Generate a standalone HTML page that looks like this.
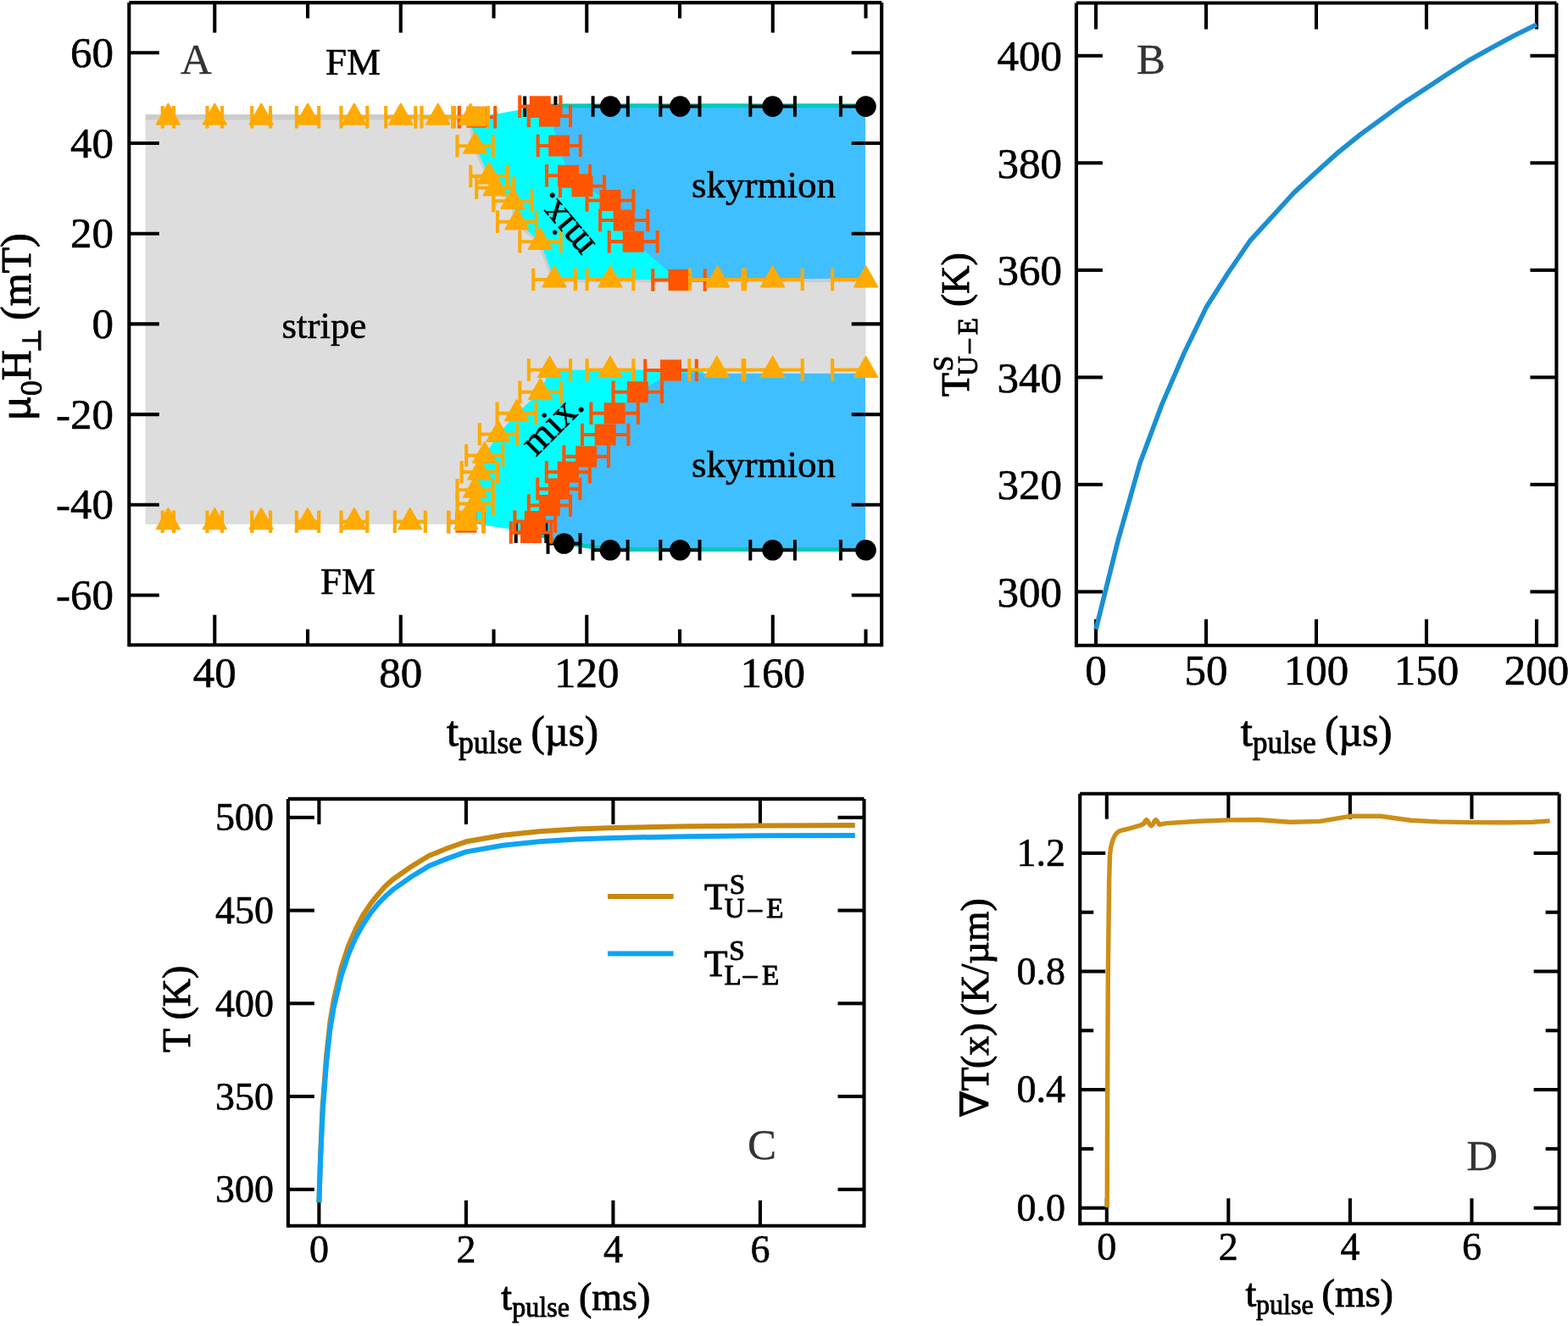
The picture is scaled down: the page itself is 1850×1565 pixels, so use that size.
<!DOCTYPE html>
<html lang="en">
<head>
<meta charset="utf-8">
<title>Figure: phase diagram and temperature curves</title>
<style>
html,body{margin:0;padding:0;background:#fff;}
body{width:1850px;height:1565px;overflow:hidden;}
svg{display:block;font-family:'Liberation Serif', 'DejaVu Serif', serif;}
text{stroke:#000;stroke-width:0.6px;stroke-linejoin:round;}
text.m,tspan.m{stroke-width:1.0px;}
text.ax{stroke-width:0.95px;}
text.g{stroke:#333;stroke-width:0.3px;}
</style>
</head>
<body>
<svg width="1850" height="1565" viewBox="0 0 1850 1565">
<clipPath id="clipA"><rect x="171.4" y="20" width="850.4" height="720"/></clipPath>
<rect width="1850" height="1565" fill="#fff"/>
<g clip-path="url(#clipA)">
<polygon points="171.4,138.2 555.1,138.2 560.6,172.2 577.0,207.9 584.2,221.8 605.0,237.3 610.0,261.8 637.4,285.3 654.0,330.0 720.0,330.0 846.6,330.0 911.6,330.0 1021.6,330.0 1021.6,436.5 911.6,436.5 845.8,436.5 720.0,436.5 648.5,436.5 637.6,462.7 609.6,487.8 588.0,512.5 571.7,537.5 565.9,557.1 560.6,578.2 560.6,594.5 549.6,615.6 171.4,615.6" fill="#DDDDDD"/>
<polyline points="171.4,138.2 555.1,138.2 560.6,172.2 577.0,207.9 584.2,221.8 605.0,237.3 610.0,261.8 637.4,285.3 654.0,330.0 720.0,330.0 846.6,330.0 911.6,330.0 1021.6,330.0" fill="none" stroke="#CCCCCC" stroke-width="6.5" stroke-linejoin="round"/>
<polyline points="171.4,615.6 549.6,615.6 560.6,594.5 560.6,578.2 565.9,557.1 571.7,537.5 588.0,512.5 609.6,487.8 637.6,462.7 648.5,436.5 720.0,436.5 845.8,436.5 911.6,436.5 1021.6,436.5" fill="none" stroke="#DDDDDD" stroke-width="6.5" stroke-linejoin="round"/>
<polygon points="555.1,138.2 560.6,172.2 577.0,207.9 584.2,221.8 605.0,237.3 610.0,261.8 637.4,285.3 654.0,330.0 830.0,330.0 830.0,125.6 637.3,125.6 563.0,138.2" fill="#00FFFF"/>
<polygon points="549.6,615.6 560.6,594.5 560.6,578.2 565.9,557.1 571.7,537.5 588.0,512.5 609.6,487.8 637.6,462.7 648.5,436.5 830.0,436.5 830.0,649.2 719.7,649.2 665.4,641.9 626.5,628.5 549.9,616.2" fill="#00FFFF"/>
<polygon points="637.3,125.8 648.4,137.0 659.7,172.0 670.5,207.3 687.0,219.8 720.0,236.5 736.2,260.0 747.2,285.1 801.0,330.5 1021.0,328.5 1021.0,125.6 637.3,125.6" fill="#40BFFF"/>
<polygon points="626.5,628.5 665.5,641.5 720.0,649.2 802.4,649.2 911.6,649.2 1021.0,647.2 1021.0,440.5 791.5,440.5 752.3,462.7 725.1,487.8 714.2,513.0 691.7,538.9 670.3,557.1 659.3,577.0 648.4,596.5 631.3,615.5 626.5,628.5" fill="#40BFFF"/>
<polyline points="637.3,125.0 720.2,124.8 802.4,124.8 911.6,124.8 1021.5,124.8" fill="none" stroke="#00C8BE" stroke-width="5"/>
<polyline points="626.5,627.8 665.5,640.7 720.0,648.4 802.4,648.4 911.6,648.4 1021.5,648.4" fill="none" stroke="#00C8BE" stroke-width="5"/>
</g>
<g clip-path="url(#clipA)">
<polyline points="619.2,113.5 619.2,138.1 619.2,125.8 655.4,125.8 655.4,113.5 655.4,138.1" stroke="#000" stroke-width="4.0" fill="none"/>
<polyline points="699.6,113.3 699.6,137.8 699.6,125.6 740.8,125.6 740.8,113.3 740.8,137.8" stroke="#000" stroke-width="4.0" fill="none"/>
<polyline points="779.3,113.3 779.3,137.8 779.3,125.6 825.5,125.6 825.5,113.3 825.5,137.8" stroke="#000" stroke-width="4.0" fill="none"/>
<polyline points="885.3,113.3 885.3,137.8 885.3,125.6 937.9,125.6 937.9,113.3 937.9,137.8" stroke="#000" stroke-width="4.0" fill="none"/>
<polyline points="991.9,113.3 991.9,137.8 991.9,125.6 1051.1,125.6 1051.1,113.3 1051.1,137.8" stroke="#000" stroke-width="4.0" fill="none"/>
<polyline points="608.7,616.4 608.7,640.9 608.7,628.6 644.3,628.6 644.3,616.4 644.3,640.9" stroke="#000" stroke-width="4.0" fill="none"/>
<polyline points="646.5,629.2 646.5,653.8 646.5,641.5 684.5,641.5 684.5,629.2 684.5,653.8" stroke="#000" stroke-width="4.0" fill="none"/>
<polyline points="699.4,637.0 699.4,661.5 699.4,649.2 740.6,649.2 740.6,637.0 740.6,661.5" stroke="#000" stroke-width="4.0" fill="none"/>
<polyline points="779.3,637.0 779.3,661.5 779.3,649.2 825.5,649.2 825.5,637.0 825.5,661.5" stroke="#000" stroke-width="4.0" fill="none"/>
<polyline points="885.3,637.0 885.3,661.5 885.3,649.2 937.9,649.2 937.9,637.0 937.9,661.5" stroke="#000" stroke-width="4.0" fill="none"/>
<polyline points="991.9,637.0 991.9,661.5 991.9,649.2 1051.1,649.2 1051.1,637.0 1051.1,661.5" stroke="#000" stroke-width="4.0" fill="none"/>
</g>
<circle cx="637.3" cy="125.8" r="11.0" fill="#000"/>
<circle cx="720.2" cy="125.6" r="12.3" fill="#000"/>
<circle cx="802.4" cy="125.6" r="12.3" fill="#000"/>
<circle cx="911.6" cy="125.6" r="12.3" fill="#000"/>
<circle cx="1021.5" cy="125.6" r="12.3" fill="#000"/>
<circle cx="626.5" cy="628.6" r="11.0" fill="#000"/>
<circle cx="665.5" cy="641.5" r="12.3" fill="#000"/>
<circle cx="720.0" cy="649.2" r="12.3" fill="#000"/>
<circle cx="802.4" cy="649.2" r="12.3" fill="#000"/>
<circle cx="911.6" cy="649.2" r="12.3" fill="#000"/>
<circle cx="1021.5" cy="649.2" r="12.3" fill="#000"/>
<g clip-path="url(#clipA)">
<polyline points="541.8,124.9 541.8,151.4 541.8,138.2 584.2,138.2 584.2,124.9 584.2,151.4" stroke="#FF5500" stroke-width="4.1" fill="none"/>
<polyline points="613.2,112.5 613.2,139.1 613.2,125.8 661.4,125.8 661.4,112.5 661.4,139.1" stroke="#FF5500" stroke-width="4.1" fill="none"/>
<polyline points="623.8,123.8 623.8,150.2 623.8,137.0 673.0,137.0 673.0,123.8 673.0,150.2" stroke="#FF5500" stroke-width="4.1" fill="none"/>
<polyline points="634.7,158.8 634.7,185.2 634.7,172.0 684.7,172.0 684.7,158.8 684.7,185.2" stroke="#FF5500" stroke-width="4.1" fill="none"/>
<polyline points="645.0,194.1 645.0,220.6 645.0,207.3 696.0,207.3 696.0,194.1 696.0,220.6" stroke="#FF5500" stroke-width="4.1" fill="none"/>
<polyline points="660.9,206.6 660.9,233.1 660.9,219.8 713.1,219.8 713.1,206.6 713.1,233.1" stroke="#FF5500" stroke-width="4.1" fill="none"/>
<polyline points="692.6,223.2 692.6,249.8 692.6,236.5 747.4,236.5 747.4,223.2 747.4,249.8" stroke="#FF5500" stroke-width="4.1" fill="none"/>
<polyline points="708.1,246.8 708.1,273.2 708.1,260.0 764.3,260.0 764.3,246.8 764.3,273.2" stroke="#FF5500" stroke-width="4.1" fill="none"/>
<polyline points="718.7,271.9 718.7,298.4 718.7,285.1 775.7,285.1 775.7,271.9 775.7,298.4" stroke="#FF5500" stroke-width="4.1" fill="none"/>
<polyline points="770.3,317.2 770.3,343.8 770.3,330.5 831.7,330.5 831.7,317.2 831.7,343.8" stroke="#FF5500" stroke-width="4.1" fill="none"/>
<polyline points="529.3,603.0 529.3,629.5 529.3,616.2 570.5,616.2 570.5,603.0 570.5,629.5" stroke="#FF5500" stroke-width="4.1" fill="none"/>
<polyline points="602.8,615.2 602.8,641.8 602.8,628.5 650.2,628.5 650.2,615.2 650.2,641.8" stroke="#FF5500" stroke-width="4.1" fill="none"/>
<polyline points="607.4,602.2 607.4,628.8 607.4,615.5 655.2,615.5 655.2,602.2 655.2,628.8" stroke="#FF5500" stroke-width="4.1" fill="none"/>
<polyline points="623.8,583.2 623.8,609.8 623.8,596.5 673.0,596.5 673.0,583.2 673.0,609.8" stroke="#FF5500" stroke-width="4.1" fill="none"/>
<polyline points="634.3,563.8 634.3,590.2 634.3,577.0 684.3,577.0 684.3,563.8 684.3,590.2" stroke="#FF5500" stroke-width="4.1" fill="none"/>
<polyline points="644.8,543.9 644.8,570.4 644.8,557.1 695.8,557.1 695.8,543.9 695.8,570.4" stroke="#FF5500" stroke-width="4.1" fill="none"/>
<polyline points="665.4,525.6 665.4,552.1 665.4,538.9 718.0,538.9 718.0,525.6 718.0,552.1" stroke="#FF5500" stroke-width="4.1" fill="none"/>
<polyline points="687.0,499.8 687.0,526.2 687.0,513.0 741.4,513.0 741.4,499.8 741.4,526.2" stroke="#FF5500" stroke-width="4.1" fill="none"/>
<polyline points="697.4,474.6 697.4,501.1 697.4,487.8 752.8,487.8 752.8,474.6 752.8,501.1" stroke="#FF5500" stroke-width="4.1" fill="none"/>
<polyline points="723.6,449.4 723.6,475.9 723.6,462.7 781.0,462.7 781.0,449.4 781.0,475.9" stroke="#FF5500" stroke-width="4.1" fill="none"/>
<polyline points="761.2,423.8 761.2,450.2 761.2,437.0 821.8,437.0 821.8,423.8 821.8,450.2" stroke="#FF5500" stroke-width="4.1" fill="none"/>
</g>
<rect x="550.5" y="125.7" width="25" height="25" fill="#FF5500"/>
<rect x="624.8" y="113.3" width="25" height="25" fill="#FF5500"/>
<rect x="635.9" y="124.5" width="25" height="25" fill="#FF5500"/>
<rect x="647.2" y="159.5" width="25" height="25" fill="#FF5500"/>
<rect x="658.0" y="194.8" width="25" height="25" fill="#FF5500"/>
<rect x="674.5" y="207.3" width="25" height="25" fill="#FF5500"/>
<rect x="707.5" y="224.0" width="25" height="25" fill="#FF5500"/>
<rect x="723.7" y="247.5" width="25" height="25" fill="#FF5500"/>
<rect x="734.7" y="272.6" width="25" height="25" fill="#FF5500"/>
<rect x="788.5" y="318.0" width="25" height="25" fill="#FF5500"/>
<rect x="537.4" y="603.7" width="25" height="25" fill="#FF5500"/>
<rect x="614.0" y="616.0" width="25" height="25" fill="#FF5500"/>
<rect x="618.8" y="603.0" width="25" height="25" fill="#FF5500"/>
<rect x="635.9" y="584.0" width="25" height="25" fill="#FF5500"/>
<rect x="646.8" y="564.5" width="25" height="25" fill="#FF5500"/>
<rect x="657.8" y="544.6" width="25" height="25" fill="#FF5500"/>
<rect x="679.2" y="526.4" width="25" height="25" fill="#FF5500"/>
<rect x="701.7" y="500.5" width="25" height="25" fill="#FF5500"/>
<rect x="712.6" y="475.3" width="25" height="25" fill="#FF5500"/>
<rect x="739.8" y="450.2" width="25" height="25" fill="#FF5500"/>
<rect x="779.0" y="424.5" width="25" height="25" fill="#FF5500"/>
<rect x="550.5" y="126.2" width="23" height="23" fill="#FFAA00"/>
<rect x="537.9" y="602.6" width="24" height="24" fill="#FFAA00"/>
<g clip-path="url(#clipA)">
<polyline points="191.8,124.9 191.8,151.4 191.8,138.2 205.0,138.2 205.0,124.9 205.0,151.4" stroke="#FFAA00" stroke-width="4.1" fill="none"/>
<polyline points="244.5,124.9 244.5,151.4 244.5,138.2 262.1,138.2 262.1,124.9 262.1,151.4" stroke="#FFAA00" stroke-width="4.1" fill="none"/>
<polyline points="297.2,124.9 297.2,151.4 297.2,138.2 319.1,138.2 319.1,124.9 319.1,151.4" stroke="#FFAA00" stroke-width="4.1" fill="none"/>
<polyline points="349.9,124.9 349.9,151.4 349.9,138.2 376.2,138.2 376.2,124.9 376.2,151.4" stroke="#FFAA00" stroke-width="4.1" fill="none"/>
<polyline points="402.5,124.9 402.5,151.4 402.5,138.2 433.3,138.2 433.3,124.9 433.3,151.4" stroke="#FFAA00" stroke-width="4.1" fill="none"/>
<polyline points="455.2,124.9 455.2,151.4 455.2,138.2 490.3,138.2 490.3,124.9 490.3,151.4" stroke="#FFAA00" stroke-width="4.1" fill="none"/>
<polyline points="497.4,124.9 497.4,151.4 497.4,138.2 536.0,138.2 536.0,124.9 536.0,151.4" stroke="#FFAA00" stroke-width="4.1" fill="none"/>
<polyline points="534.2,124.9 534.2,151.4 534.2,138.2 575.9,138.2 575.9,124.9 575.9,151.4" stroke="#FFAA00" stroke-width="4.1" fill="none"/>
<polyline points="539.5,158.9 539.5,185.4 539.5,172.2 581.7,172.2 581.7,158.9 581.7,185.4" stroke="#FFAA00" stroke-width="4.1" fill="none"/>
<polyline points="555.3,194.7 555.3,221.2 555.3,207.9 598.7,207.9 598.7,194.7 598.7,221.2" stroke="#FFAA00" stroke-width="4.1" fill="none"/>
<polyline points="562.2,208.6 562.2,235.1 562.2,221.8 606.2,221.8 606.2,208.6 606.2,235.1" stroke="#FFAA00" stroke-width="4.1" fill="none"/>
<polyline points="582.2,224.1 582.2,250.6 582.2,237.3 627.8,237.3 627.8,224.1 627.8,250.6" stroke="#FFAA00" stroke-width="4.1" fill="none"/>
<polyline points="587.0,248.6 587.0,275.1 587.0,261.8 633.0,261.8 633.0,248.6 633.0,275.1" stroke="#FFAA00" stroke-width="4.1" fill="none"/>
<polyline points="613.3,272.1 613.3,298.6 613.3,285.3 661.5,285.3 661.5,272.1 661.5,298.6" stroke="#FFAA00" stroke-width="4.1" fill="none"/>
<polyline points="629.2,316.8 629.2,343.2 629.2,330.0 678.8,330.0 678.8,316.8 678.8,343.2" stroke="#FFAA00" stroke-width="4.1" fill="none"/>
<polyline points="692.6,316.8 692.6,343.2 692.6,330.0 747.4,330.0 747.4,316.8 747.4,343.2" stroke="#FFAA00" stroke-width="4.1" fill="none"/>
<polyline points="814.1,316.8 814.1,343.2 814.1,330.0 879.1,330.0 879.1,316.8 879.1,343.2" stroke="#FFAA00" stroke-width="4.1" fill="none"/>
<polyline points="876.5,316.8 876.5,343.2 876.5,330.0 946.7,330.0 946.7,316.8 946.7,343.2" stroke="#FFAA00" stroke-width="4.1" fill="none"/>
<polyline points="982.1,316.8 982.1,343.2 982.1,330.0 1061.1,330.0 1061.1,316.8 1061.1,343.2" stroke="#FFAA00" stroke-width="4.1" fill="none"/>
<polyline points="191.8,602.4 191.8,628.9 191.8,615.6 205.0,615.6 205.0,602.4 205.0,628.9" stroke="#FFAA00" stroke-width="4.1" fill="none"/>
<polyline points="244.5,602.4 244.5,628.9 244.5,615.6 262.1,615.6 262.1,602.4 262.1,628.9" stroke="#FFAA00" stroke-width="4.1" fill="none"/>
<polyline points="297.2,602.4 297.2,628.9 297.2,615.6 319.1,615.6 319.1,602.4 319.1,628.9" stroke="#FFAA00" stroke-width="4.1" fill="none"/>
<polyline points="349.9,602.4 349.9,628.9 349.9,615.6 376.2,615.6 376.2,602.4 376.2,628.9" stroke="#FFAA00" stroke-width="4.1" fill="none"/>
<polyline points="402.5,602.4 402.5,628.9 402.5,615.6 433.3,615.6 433.3,602.4 433.3,628.9" stroke="#FFAA00" stroke-width="4.1" fill="none"/>
<polyline points="465.8,602.4 465.8,628.9 465.8,615.6 501.8,615.6 501.8,602.4 501.8,628.9" stroke="#FFAA00" stroke-width="4.1" fill="none"/>
<polyline points="529.0,602.4 529.0,628.9 529.0,615.6 570.2,615.6 570.2,602.4 570.2,628.9" stroke="#FFAA00" stroke-width="4.1" fill="none"/>
<polyline points="539.5,581.2 539.5,607.8 539.5,594.5 581.7,594.5 581.7,581.2 581.7,607.8" stroke="#FFAA00" stroke-width="4.1" fill="none"/>
<polyline points="539.5,565.0 539.5,591.5 539.5,578.2 581.7,578.2 581.7,565.0 581.7,591.5" stroke="#FFAA00" stroke-width="4.1" fill="none"/>
<polyline points="544.6,543.9 544.6,570.4 544.6,557.1 587.2,557.1 587.2,543.9 587.2,570.4" stroke="#FFAA00" stroke-width="4.1" fill="none"/>
<polyline points="550.2,524.2 550.2,550.8 550.2,537.5 593.2,537.5 593.2,524.2 593.2,550.8" stroke="#FFAA00" stroke-width="4.1" fill="none"/>
<polyline points="565.8,499.2 565.8,525.8 565.8,512.5 610.2,512.5 610.2,499.2 610.2,525.8" stroke="#FFAA00" stroke-width="4.1" fill="none"/>
<polyline points="586.6,474.6 586.6,501.1 586.6,487.8 632.6,487.8 632.6,474.6 632.6,501.1" stroke="#FFAA00" stroke-width="4.1" fill="none"/>
<polyline points="613.4,449.4 613.4,475.9 613.4,462.7 661.8,462.7 661.8,449.4 661.8,475.9" stroke="#FFAA00" stroke-width="4.1" fill="none"/>
<polyline points="623.9,423.2 623.9,449.8 623.9,436.5 673.1,436.5 673.1,423.2 673.1,449.8" stroke="#FFAA00" stroke-width="4.1" fill="none"/>
<polyline points="692.6,423.2 692.6,449.8 692.6,436.5 747.4,436.5 747.4,423.2 747.4,449.8" stroke="#FFAA00" stroke-width="4.1" fill="none"/>
<polyline points="813.3,423.2 813.3,449.8 813.3,436.5 878.3,436.5 878.3,423.2 878.3,449.8" stroke="#FFAA00" stroke-width="4.1" fill="none"/>
<polyline points="876.5,423.2 876.5,449.8 876.5,436.5 946.7,436.5 946.7,423.2 946.7,449.8" stroke="#FFAA00" stroke-width="4.1" fill="none"/>
<polyline points="982.1,423.2 982.1,449.8 982.1,436.5 1061.1,436.5 1061.1,423.2 1061.1,449.8" stroke="#FFAA00" stroke-width="4.1" fill="none"/>
</g>
<polygon points="198.4,122.6 212.0,146.8 184.8,146.8" fill="#FFAA00" stroke="#FFAA00" stroke-width="2" stroke-linejoin="round"/>
<polygon points="253.3,122.6 266.9,146.8 239.7,146.8" fill="#FFAA00" stroke="#FFAA00" stroke-width="2" stroke-linejoin="round"/>
<polygon points="308.2,122.6 321.8,146.8 294.6,146.8" fill="#FFAA00" stroke="#FFAA00" stroke-width="2" stroke-linejoin="round"/>
<polygon points="363.0,122.6 376.6,146.8 349.4,146.8" fill="#FFAA00" stroke="#FFAA00" stroke-width="2" stroke-linejoin="round"/>
<polygon points="417.9,122.6 431.5,146.8 404.3,146.8" fill="#FFAA00" stroke="#FFAA00" stroke-width="2" stroke-linejoin="round"/>
<polygon points="472.8,122.6 486.4,146.8 459.2,146.8" fill="#FFAA00" stroke="#FFAA00" stroke-width="2" stroke-linejoin="round"/>
<polygon points="516.7,122.6 530.3,146.8 503.1,146.8" fill="#FFAA00" stroke="#FFAA00" stroke-width="2" stroke-linejoin="round"/>
<polygon points="555.1,122.6 568.7,146.8 541.5,146.8" fill="#FFAA00" stroke="#FFAA00" stroke-width="2" stroke-linejoin="round"/>
<polygon points="560.6,156.6 574.2,180.8 547.0,180.8" fill="#FFAA00" stroke="#FFAA00" stroke-width="2" stroke-linejoin="round"/>
<polygon points="577.0,192.3 590.6,216.5 563.4,216.5" fill="#FFAA00" stroke="#FFAA00" stroke-width="2" stroke-linejoin="round"/>
<polygon points="584.2,206.2 597.8,230.4 570.6,230.4" fill="#FFAA00" stroke="#FFAA00" stroke-width="2" stroke-linejoin="round"/>
<polygon points="605.0,221.7 618.6,245.9 591.4,245.9" fill="#FFAA00" stroke="#FFAA00" stroke-width="2" stroke-linejoin="round"/>
<polygon points="610.0,246.2 623.6,270.4 596.4,270.4" fill="#FFAA00" stroke="#FFAA00" stroke-width="2" stroke-linejoin="round"/>
<polygon points="637.4,269.7 651.0,293.9 623.8,293.9" fill="#FFAA00" stroke="#FFAA00" stroke-width="2" stroke-linejoin="round"/>
<polygon points="654.0,314.4 667.6,338.6 640.4,338.6" fill="#FFAA00" stroke="#FFAA00" stroke-width="2" stroke-linejoin="round"/>
<polygon points="720.0,314.4 733.6,338.6 706.4,338.6" fill="#FFAA00" stroke="#FFAA00" stroke-width="2" stroke-linejoin="round"/>
<polygon points="846.6,314.4 860.2,338.6 833.0,338.6" fill="#FFAA00" stroke="#FFAA00" stroke-width="2" stroke-linejoin="round"/>
<polygon points="911.6,314.4 925.2,338.6 898.0,338.6" fill="#FFAA00" stroke="#FFAA00" stroke-width="2" stroke-linejoin="round"/>
<polygon points="1021.6,314.4 1035.2,338.6 1008.0,338.6" fill="#FFAA00" stroke="#FFAA00" stroke-width="2" stroke-linejoin="round"/>
<polygon points="198.4,600.0 212.0,624.2 184.8,624.2" fill="#FFAA00" stroke="#FFAA00" stroke-width="2" stroke-linejoin="round"/>
<polygon points="253.3,600.0 266.9,624.2 239.7,624.2" fill="#FFAA00" stroke="#FFAA00" stroke-width="2" stroke-linejoin="round"/>
<polygon points="308.2,600.0 321.8,624.2 294.6,624.2" fill="#FFAA00" stroke="#FFAA00" stroke-width="2" stroke-linejoin="round"/>
<polygon points="363.0,600.0 376.6,624.2 349.4,624.2" fill="#FFAA00" stroke="#FFAA00" stroke-width="2" stroke-linejoin="round"/>
<polygon points="417.9,600.0 431.5,624.2 404.3,624.2" fill="#FFAA00" stroke="#FFAA00" stroke-width="2" stroke-linejoin="round"/>
<polygon points="483.8,600.0 497.4,624.2 470.2,624.2" fill="#FFAA00" stroke="#FFAA00" stroke-width="2" stroke-linejoin="round"/>
<polygon points="549.6,600.0 563.2,624.2 536.0,624.2" fill="#FFAA00" stroke="#FFAA00" stroke-width="2" stroke-linejoin="round"/>
<polygon points="560.6,578.9 574.2,603.1 547.0,603.1" fill="#FFAA00" stroke="#FFAA00" stroke-width="2" stroke-linejoin="round"/>
<polygon points="560.6,562.6 574.2,586.8 547.0,586.8" fill="#FFAA00" stroke="#FFAA00" stroke-width="2" stroke-linejoin="round"/>
<polygon points="565.9,541.5 579.5,565.7 552.3,565.7" fill="#FFAA00" stroke="#FFAA00" stroke-width="2" stroke-linejoin="round"/>
<polygon points="571.7,521.9 585.3,546.1 558.1,546.1" fill="#FFAA00" stroke="#FFAA00" stroke-width="2" stroke-linejoin="round"/>
<polygon points="588.0,496.9 601.6,521.1 574.4,521.1" fill="#FFAA00" stroke="#FFAA00" stroke-width="2" stroke-linejoin="round"/>
<polygon points="609.6,472.2 623.2,496.4 596.0,496.4" fill="#FFAA00" stroke="#FFAA00" stroke-width="2" stroke-linejoin="round"/>
<polygon points="637.6,447.1 651.2,471.3 624.0,471.3" fill="#FFAA00" stroke="#FFAA00" stroke-width="2" stroke-linejoin="round"/>
<polygon points="648.5,420.9 662.1,445.1 634.9,445.1" fill="#FFAA00" stroke="#FFAA00" stroke-width="2" stroke-linejoin="round"/>
<polygon points="720.0,420.9 733.6,445.1 706.4,445.1" fill="#FFAA00" stroke="#FFAA00" stroke-width="2" stroke-linejoin="round"/>
<polygon points="845.8,420.9 859.4,445.1 832.2,445.1" fill="#FFAA00" stroke="#FFAA00" stroke-width="2" stroke-linejoin="round"/>
<polygon points="911.6,420.9 925.2,445.1 898.0,445.1" fill="#FFAA00" stroke="#FFAA00" stroke-width="2" stroke-linejoin="round"/>
<polygon points="1021.6,420.9 1035.2,445.1 1008.0,445.1" fill="#FFAA00" stroke="#FFAA00" stroke-width="2" stroke-linejoin="round"/>
<g>
</g>
<text x="213.00" y="87.00" font-size="51" text-anchor="start" fill="#333" class="g">A</text>
<text x="384.00" y="88.00" font-size="45" text-anchor="start" fill="#000" >FM</text>
<text x="378.00" y="700.50" font-size="45" text-anchor="start" fill="#000" >FM</text>
<text x="332.50" y="399.00" font-size="45" text-anchor="start" fill="#000" >stripe</text>
<text x="816.00" y="233.00" font-size="45" text-anchor="start" fill="#000" >skyrmion</text>
<text x="816.00" y="563.00" font-size="45" text-anchor="start" fill="#000" >skyrmion</text>
<text font-size="46" text-anchor="end" transform="translate(649.5,224.8) rotate(-130)">mix.</text>
<text font-size="46" text-anchor="end" transform="translate(691.1,480.9) rotate(-45)">mix.</text>
<line x1="152.30" y1="3.10" x2="152.30" y2="763.25" stroke="#000" stroke-width="4.1" />
<line x1="1040.20" y1="3.10" x2="1040.20" y2="763.25" stroke="#000" stroke-width="4.1" />
<line x1="152.30" y1="3.10" x2="1040.20" y2="3.10" stroke="#000" stroke-width="4.1" />
<line x1="152.30" y1="761.20" x2="1040.20" y2="761.20" stroke="#000" stroke-width="4.1" />
<line x1="253.30" y1="3.10" x2="253.30" y2="38.60" stroke="#000" stroke-width="4.1" />
<line x1="253.30" y1="761.20" x2="253.30" y2="725.70" stroke="#000" stroke-width="4.1" />
<line x1="472.78" y1="3.10" x2="472.78" y2="38.60" stroke="#000" stroke-width="4.1" />
<line x1="472.78" y1="761.20" x2="472.78" y2="725.70" stroke="#000" stroke-width="4.1" />
<line x1="692.26" y1="3.10" x2="692.26" y2="38.60" stroke="#000" stroke-width="4.1" />
<line x1="692.26" y1="761.20" x2="692.26" y2="725.70" stroke="#000" stroke-width="4.1" />
<line x1="911.74" y1="3.10" x2="911.74" y2="38.60" stroke="#000" stroke-width="4.1" />
<line x1="911.74" y1="761.20" x2="911.74" y2="725.70" stroke="#000" stroke-width="4.1" />
<line x1="363.04" y1="3.10" x2="363.04" y2="21.60" stroke="#000" stroke-width="4.1" />
<line x1="363.04" y1="761.20" x2="363.04" y2="742.70" stroke="#000" stroke-width="4.1" />
<line x1="582.52" y1="3.10" x2="582.52" y2="21.60" stroke="#000" stroke-width="4.1" />
<line x1="582.52" y1="761.20" x2="582.52" y2="742.70" stroke="#000" stroke-width="4.1" />
<line x1="802.00" y1="3.10" x2="802.00" y2="21.60" stroke="#000" stroke-width="4.1" />
<line x1="802.00" y1="761.20" x2="802.00" y2="742.70" stroke="#000" stroke-width="4.1" />
<line x1="1021.48" y1="3.10" x2="1021.48" y2="21.60" stroke="#000" stroke-width="4.1" />
<line x1="1021.48" y1="761.20" x2="1021.48" y2="742.70" stroke="#000" stroke-width="4.1" />
<line x1="152.30" y1="702.50" x2="187.80" y2="702.50" stroke="#000" stroke-width="4.1" />
<line x1="1040.20" y1="702.50" x2="1004.70" y2="702.50" stroke="#000" stroke-width="4.1" />
<line x1="152.30" y1="595.80" x2="187.80" y2="595.80" stroke="#000" stroke-width="4.1" />
<line x1="1040.20" y1="595.80" x2="1004.70" y2="595.80" stroke="#000" stroke-width="4.1" />
<line x1="152.30" y1="489.10" x2="187.80" y2="489.10" stroke="#000" stroke-width="4.1" />
<line x1="1040.20" y1="489.10" x2="1004.70" y2="489.10" stroke="#000" stroke-width="4.1" />
<line x1="152.30" y1="382.40" x2="187.80" y2="382.40" stroke="#000" stroke-width="4.1" />
<line x1="1040.20" y1="382.40" x2="1004.70" y2="382.40" stroke="#000" stroke-width="4.1" />
<line x1="152.30" y1="275.70" x2="187.80" y2="275.70" stroke="#000" stroke-width="4.1" />
<line x1="1040.20" y1="275.70" x2="1004.70" y2="275.70" stroke="#000" stroke-width="4.1" />
<line x1="152.30" y1="169.00" x2="187.80" y2="169.00" stroke="#000" stroke-width="4.1" />
<line x1="1040.20" y1="169.00" x2="1004.70" y2="169.00" stroke="#000" stroke-width="4.1" />
<line x1="152.30" y1="62.30" x2="187.80" y2="62.30" stroke="#000" stroke-width="4.1" />
<line x1="1040.20" y1="62.30" x2="1004.70" y2="62.30" stroke="#000" stroke-width="4.1" />
<text x="253.30" y="811.00" font-size="51" text-anchor="middle" fill="#000" >40</text>
<text x="472.78" y="811.00" font-size="51" text-anchor="middle" fill="#000" >80</text>
<text x="692.26" y="811.00" font-size="51" text-anchor="middle" fill="#000" >120</text>
<text x="911.74" y="811.00" font-size="51" text-anchor="middle" fill="#000" >160</text>
<text x="134.00" y="719.00" font-size="51" text-anchor="end" fill="#000" >-60</text>
<text x="134.00" y="612.30" font-size="51" text-anchor="end" fill="#000" >-40</text>
<text x="134.00" y="505.60" font-size="51" text-anchor="end" fill="#000" >-20</text>
<text x="134.00" y="398.90" font-size="51" text-anchor="end" fill="#000" >0</text>
<text x="134.00" y="292.20" font-size="51" text-anchor="end" fill="#000" >20</text>
<text x="134.00" y="185.50" font-size="51" text-anchor="end" fill="#000" >40</text>
<text x="134.00" y="78.80" font-size="51" text-anchor="end" fill="#000" >60</text>
<text font-size="51" transform="translate(527,879.5)"  class="ax"><tspan x="0" y="0" >t</tspan><tspan x="14" y="9.6" font-size="37.0" textLength="75.0" lengthAdjust="spacingAndGlyphs">pulse</tspan><tspan x="99.5" y="0" textLength="79.6" lengthAdjust="spacingAndGlyphs">(µs)</tspan></text>
<text font-size="50" transform="translate(36,497) rotate(-90)"  class="ax"><tspan x="1.5" y="0" font-size="47" font-family="'Liberation Sans',sans-serif">µ</tspan><tspan x="30" y="13" font-size="36" >0</tspan><tspan x="47.7" y="0" >H</tspan><tspan x="80.5" y="12" font-size="31" >⊥</tspan><tspan x="119" y="0" >(mT)</tspan></text>
<line x1="1269.90" y1="3.50" x2="1269.90" y2="763.85" stroke="#000" stroke-width="4.1" />
<line x1="1836.40" y1="3.50" x2="1836.40" y2="763.85" stroke="#000" stroke-width="4.1" />
<line x1="1269.90" y1="3.50" x2="1836.40" y2="3.50" stroke="#000" stroke-width="4.1" />
<line x1="1269.90" y1="761.80" x2="1836.40" y2="761.80" stroke="#000" stroke-width="4.1" />
<line x1="1293.00" y1="3.50" x2="1293.00" y2="34.50" stroke="#000" stroke-width="4.1" />
<line x1="1293.00" y1="761.80" x2="1293.00" y2="730.80" stroke="#000" stroke-width="4.1" />
<line x1="1423.00" y1="3.50" x2="1423.00" y2="34.50" stroke="#000" stroke-width="4.1" />
<line x1="1423.00" y1="761.80" x2="1423.00" y2="730.80" stroke="#000" stroke-width="4.1" />
<line x1="1553.00" y1="3.50" x2="1553.00" y2="34.50" stroke="#000" stroke-width="4.1" />
<line x1="1553.00" y1="761.80" x2="1553.00" y2="730.80" stroke="#000" stroke-width="4.1" />
<line x1="1683.00" y1="3.50" x2="1683.00" y2="34.50" stroke="#000" stroke-width="4.1" />
<line x1="1683.00" y1="761.80" x2="1683.00" y2="730.80" stroke="#000" stroke-width="4.1" />
<line x1="1813.00" y1="3.50" x2="1813.00" y2="34.50" stroke="#000" stroke-width="4.1" />
<line x1="1813.00" y1="761.80" x2="1813.00" y2="730.80" stroke="#000" stroke-width="4.1" />
<line x1="1269.90" y1="698.40" x2="1300.90" y2="698.40" stroke="#000" stroke-width="4.1" />
<line x1="1836.40" y1="698.40" x2="1805.40" y2="698.40" stroke="#000" stroke-width="4.1" />
<line x1="1269.90" y1="571.88" x2="1300.90" y2="571.88" stroke="#000" stroke-width="4.1" />
<line x1="1836.40" y1="571.88" x2="1805.40" y2="571.88" stroke="#000" stroke-width="4.1" />
<line x1="1269.90" y1="445.36" x2="1300.90" y2="445.36" stroke="#000" stroke-width="4.1" />
<line x1="1836.40" y1="445.36" x2="1805.40" y2="445.36" stroke="#000" stroke-width="4.1" />
<line x1="1269.90" y1="318.84" x2="1300.90" y2="318.84" stroke="#000" stroke-width="4.1" />
<line x1="1836.40" y1="318.84" x2="1805.40" y2="318.84" stroke="#000" stroke-width="4.1" />
<line x1="1269.90" y1="192.32" x2="1300.90" y2="192.32" stroke="#000" stroke-width="4.1" />
<line x1="1836.40" y1="192.32" x2="1805.40" y2="192.32" stroke="#000" stroke-width="4.1" />
<line x1="1269.90" y1="65.80" x2="1300.90" y2="65.80" stroke="#000" stroke-width="4.1" />
<line x1="1836.40" y1="65.80" x2="1805.40" y2="65.80" stroke="#000" stroke-width="4.1" />
<polyline points="1293.0,742.7 1319.0,638.3 1345.0,546.6 1371.0,477.0 1397.0,416.9 1423.0,363.1 1449.0,322.0 1475.0,284.0 1501.0,255.6 1527.0,227.1 1553.0,203.1 1579.0,179.7 1605.0,158.8 1631.0,139.8 1657.0,120.8 1683.0,103.8 1709.0,86.7 1735.0,70.2 1761.0,55.7 1787.0,41.8 1813.0,29.1" fill="none" stroke="#1B8FD2" stroke-width="5.6" stroke-linejoin="round"/>
<text x="1293.00" y="808.30" font-size="51" text-anchor="middle" fill="#000" >0</text>
<text x="1423.00" y="808.30" font-size="51" text-anchor="middle" fill="#000" >50</text>
<text x="1553.00" y="808.30" font-size="51" text-anchor="middle" fill="#000" >100</text>
<text x="1683.00" y="808.30" font-size="51" text-anchor="middle" fill="#000" >150</text>
<text x="1813.00" y="808.30" font-size="51" text-anchor="middle" fill="#000" >200</text>
<text x="1253.00" y="715.70" font-size="51" text-anchor="end" fill="#000" >300</text>
<text x="1253.00" y="589.18" font-size="51" text-anchor="end" fill="#000" >320</text>
<text x="1253.00" y="462.66" font-size="51" text-anchor="end" fill="#000" >340</text>
<text x="1253.00" y="336.14" font-size="51" text-anchor="end" fill="#000" >360</text>
<text x="1253.00" y="209.62" font-size="51" text-anchor="end" fill="#000" >380</text>
<text x="1253.00" y="83.10" font-size="51" text-anchor="end" fill="#000" >400</text>
<text x="1341.00" y="87.00" font-size="51" text-anchor="start" fill="#333" class="g">B</text>
<text font-size="51" transform="translate(1463.7,879.5)"  class="ax"><tspan x="0" y="0" >t</tspan><tspan x="14" y="9.6" font-size="37.0" textLength="75.0" lengthAdjust="spacingAndGlyphs">pulse</tspan><tspan x="99.3" y="0" textLength="79.6" lengthAdjust="spacingAndGlyphs">(µs)</tspan></text>
<text font-size="46" transform="translate(1142.5,468) rotate(-90)"  class="ax"><tspan x="0" y="0" class="m">T</tspan><tspan x="29.8" y="-18.7" font-size="33" class="m">S</tspan><tspan x="24.0" y="10.3" font-size="33" class="m">U</tspan><tspan x="49.0" y="13.6" font-size="36" class="m">−</tspan><tspan x="72.8" y="10.3" font-size="33" class="m">E</tspan><tspan x="106" y="0" >(K)</tspan></text>
<line x1="339.90" y1="942.90" x2="339.90" y2="1448.75" stroke="#000" stroke-width="4.1" />
<line x1="1019.50" y1="942.90" x2="1019.50" y2="1448.75" stroke="#000" stroke-width="4.1" />
<line x1="339.90" y1="942.90" x2="1019.50" y2="942.90" stroke="#000" stroke-width="4.1" />
<line x1="339.90" y1="1446.70" x2="1019.50" y2="1446.70" stroke="#000" stroke-width="4.1" />
<line x1="376.40" y1="942.90" x2="376.40" y2="972.90" stroke="#000" stroke-width="4.1" />
<line x1="376.40" y1="1446.70" x2="376.40" y2="1416.70" stroke="#000" stroke-width="4.1" />
<line x1="549.90" y1="942.90" x2="549.90" y2="972.90" stroke="#000" stroke-width="4.1" />
<line x1="549.90" y1="1446.70" x2="549.90" y2="1416.70" stroke="#000" stroke-width="4.1" />
<line x1="723.40" y1="942.90" x2="723.40" y2="972.90" stroke="#000" stroke-width="4.1" />
<line x1="723.40" y1="1446.70" x2="723.40" y2="1416.70" stroke="#000" stroke-width="4.1" />
<line x1="896.90" y1="942.90" x2="896.90" y2="972.90" stroke="#000" stroke-width="4.1" />
<line x1="896.90" y1="1446.70" x2="896.90" y2="1416.70" stroke="#000" stroke-width="4.1" />
<line x1="339.90" y1="1403.80" x2="370.90" y2="1403.80" stroke="#000" stroke-width="4.1" />
<line x1="1019.50" y1="1403.80" x2="988.50" y2="1403.80" stroke="#000" stroke-width="4.1" />
<line x1="339.90" y1="1294.05" x2="370.90" y2="1294.05" stroke="#000" stroke-width="4.1" />
<line x1="1019.50" y1="1294.05" x2="988.50" y2="1294.05" stroke="#000" stroke-width="4.1" />
<line x1="339.90" y1="1184.30" x2="370.90" y2="1184.30" stroke="#000" stroke-width="4.1" />
<line x1="1019.50" y1="1184.30" x2="988.50" y2="1184.30" stroke="#000" stroke-width="4.1" />
<line x1="339.90" y1="1074.55" x2="370.90" y2="1074.55" stroke="#000" stroke-width="4.1" />
<line x1="1019.50" y1="1074.55" x2="988.50" y2="1074.55" stroke="#000" stroke-width="4.1" />
<line x1="339.90" y1="964.80" x2="370.90" y2="964.80" stroke="#000" stroke-width="4.1" />
<line x1="1019.50" y1="964.80" x2="988.50" y2="964.80" stroke="#000" stroke-width="4.1" />
<polyline points="376.4,1419.2 378.1,1364.3 380.7,1305.0 385.1,1245.8 389.4,1206.2 393.8,1179.9 402.4,1142.6 411.1,1116.3 419.8,1096.5 428.4,1080.0 437.1,1066.9 445.8,1055.9 454.5,1046.0 463.1,1038.3 484.8,1023.0 506.5,1009.8 528.2,1001.0 549.9,993.3 593.3,985.7 636.6,981.3 680.0,978.4 723.4,976.9 810.1,975.3 896.9,974.5 1008.8,974.0" fill="none" stroke="#C8870F" stroke-width="6" stroke-linejoin="round"/>
<polyline points="376.4,1419.2 378.1,1368.7 380.7,1311.6 385.1,1254.5 389.4,1215.0 393.8,1188.7 402.4,1152.5 411.1,1126.1 419.8,1106.4 428.4,1091.0 437.1,1077.8 445.8,1066.9 454.5,1058.1 463.1,1050.4 484.8,1035.0 506.5,1021.9 528.2,1013.1 549.9,1005.4 593.3,997.7 636.6,993.3 680.0,990.5 723.4,988.9 810.1,987.2 896.9,986.3 1008.8,985.9" fill="none" stroke="#0DA4F4" stroke-width="6" stroke-linejoin="round"/>
<text x="376.40" y="1490.00" font-size="46" text-anchor="middle" fill="#000" >0</text>
<text x="549.90" y="1490.00" font-size="46" text-anchor="middle" fill="#000" >2</text>
<text x="723.40" y="1490.00" font-size="46" text-anchor="middle" fill="#000" >4</text>
<text x="896.90" y="1490.00" font-size="46" text-anchor="middle" fill="#000" >6</text>
<text x="323.00" y="1419.30" font-size="46" text-anchor="end" fill="#000" >300</text>
<text x="323.00" y="1309.55" font-size="46" text-anchor="end" fill="#000" >350</text>
<text x="323.00" y="1199.80" font-size="46" text-anchor="end" fill="#000" >400</text>
<text x="323.00" y="1090.05" font-size="46" text-anchor="end" fill="#000" >450</text>
<text x="323.00" y="980.30" font-size="46" text-anchor="end" fill="#000" >500</text>
<text x="882.00" y="1368.30" font-size="51" text-anchor="start" fill="#333" class="g">C</text>
<line x1="717.00" y1="1058.00" x2="794.60" y2="1058.00" stroke="#C8870F" stroke-width="6" />
<line x1="717.00" y1="1125.40" x2="794.60" y2="1125.40" stroke="#0DA4F4" stroke-width="6" />
<text font-size="45" transform="translate(831,1073.2)" class="m"><tspan x="0" y="0" >T</tspan><tspan x="29.8" y="-18.7" font-size="33" >S</tspan><tspan x="23.7" y="10.1" font-size="33" >U</tspan><tspan x="49.5" y="13.4" font-size="36" >−</tspan><tspan x="73.3" y="10.1" font-size="33" >E</tspan></text>
<text font-size="45" transform="translate(831,1151.8)" class="m"><tspan x="0" y="0" >T</tspan><tspan x="29.3" y="-18.7" font-size="33" >S</tspan><tspan x="23.5" y="10.3" font-size="33" >L</tspan><tspan x="43.7" y="13.6" font-size="36" >−</tspan><tspan x="68.1" y="10.3" font-size="33" >E</tspan></text>
<text font-size="46" transform="translate(591.3,1545.5)"  class="ax"><tspan x="0" y="0" >t</tspan><tspan x="13" y="8.7" font-size="33.4" textLength="67.6" lengthAdjust="spacingAndGlyphs">pulse</tspan><tspan x="91.7" y="0" >(ms)</tspan></text>
<text font-size="46" transform="translate(224,1242) rotate(-90)"  class="ax"><tspan x="0" y="0" >T</tspan><tspan x="38.5" y="0" >(K)</tspan></text>
<line x1="1274.20" y1="936.70" x2="1274.20" y2="1446.35" stroke="#000" stroke-width="4.1" />
<line x1="1839.60" y1="936.70" x2="1839.60" y2="1446.35" stroke="#000" stroke-width="4.1" />
<line x1="1274.20" y1="936.70" x2="1839.60" y2="936.70" stroke="#000" stroke-width="4.1" />
<line x1="1274.20" y1="1444.30" x2="1839.60" y2="1444.30" stroke="#000" stroke-width="4.1" />
<line x1="1305.80" y1="936.70" x2="1305.80" y2="966.70" stroke="#000" stroke-width="4.1" />
<line x1="1305.80" y1="1444.30" x2="1305.80" y2="1414.30" stroke="#000" stroke-width="4.1" />
<line x1="1449.34" y1="936.70" x2="1449.34" y2="966.70" stroke="#000" stroke-width="4.1" />
<line x1="1449.34" y1="1444.30" x2="1449.34" y2="1414.30" stroke="#000" stroke-width="4.1" />
<line x1="1592.88" y1="936.70" x2="1592.88" y2="966.70" stroke="#000" stroke-width="4.1" />
<line x1="1592.88" y1="1444.30" x2="1592.88" y2="1414.30" stroke="#000" stroke-width="4.1" />
<line x1="1736.42" y1="936.70" x2="1736.42" y2="966.70" stroke="#000" stroke-width="4.1" />
<line x1="1736.42" y1="1444.30" x2="1736.42" y2="1414.30" stroke="#000" stroke-width="4.1" />
<line x1="1274.20" y1="1425.70" x2="1304.20" y2="1425.70" stroke="#000" stroke-width="4.1" />
<line x1="1839.60" y1="1425.70" x2="1809.60" y2="1425.70" stroke="#000" stroke-width="4.1" />
<line x1="1274.20" y1="1286.10" x2="1304.20" y2="1286.10" stroke="#000" stroke-width="4.1" />
<line x1="1839.60" y1="1286.10" x2="1809.60" y2="1286.10" stroke="#000" stroke-width="4.1" />
<line x1="1274.20" y1="1146.50" x2="1304.20" y2="1146.50" stroke="#000" stroke-width="4.1" />
<line x1="1839.60" y1="1146.50" x2="1809.60" y2="1146.50" stroke="#000" stroke-width="4.1" />
<line x1="1274.20" y1="1006.90" x2="1304.20" y2="1006.90" stroke="#000" stroke-width="4.1" />
<line x1="1839.60" y1="1006.90" x2="1809.60" y2="1006.90" stroke="#000" stroke-width="4.1" />
<line x1="1274.20" y1="1355.90" x2="1290.20" y2="1355.90" stroke="#000" stroke-width="4.1" />
<line x1="1839.60" y1="1355.90" x2="1823.60" y2="1355.90" stroke="#000" stroke-width="4.1" />
<line x1="1274.20" y1="1216.30" x2="1290.20" y2="1216.30" stroke="#000" stroke-width="4.1" />
<line x1="1839.60" y1="1216.30" x2="1823.60" y2="1216.30" stroke="#000" stroke-width="4.1" />
<line x1="1274.20" y1="1076.70" x2="1290.20" y2="1076.70" stroke="#000" stroke-width="4.1" />
<line x1="1839.60" y1="1076.70" x2="1823.60" y2="1076.70" stroke="#000" stroke-width="4.1" />
<polyline points="1306.2,1425.0 1306.6,1300.0 1307.3,1150.0 1308.6,1040.0 1309.5,1009.2 1310.4,1001.5 1311.6,996.2 1313.2,990.8 1315.1,986.7 1317.5,983.3 1320.3,981.1 1326.0,979.3 1333.2,977.6 1345.4,974.2 1349.7,972.0 1351.2,969.0 1352.6,967.6 1354.2,969.0 1356.3,973.0 1358.3,974.6 1360.3,973.0 1362.3,968.6 1363.7,967.6 1365.2,968.8 1367.0,972.4 1368.7,973.3 1371.5,972.4 1376.5,971.6 1413.5,969.2 1449.3,967.9 1485.2,967.5 1521.1,970.3 1557.0,969.4 1592.9,963.3 1628.8,963.3 1664.6,968.2 1696.9,969.9 1736.4,970.6 1772.3,970.8 1808.2,970.3 1828.6,968.9" fill="none" stroke="#CD8F17" stroke-width="5.4" stroke-linejoin="round"/>
<text x="1305.80" y="1486.90" font-size="46" text-anchor="middle" fill="#000" >0</text>
<text x="1449.34" y="1486.90" font-size="46" text-anchor="middle" fill="#000" >2</text>
<text x="1592.88" y="1486.90" font-size="46" text-anchor="middle" fill="#000" >4</text>
<text x="1736.42" y="1486.90" font-size="46" text-anchor="middle" fill="#000" >6</text>
<text x="1257.00" y="1440.70" font-size="46" text-anchor="end" fill="#000" >0.0</text>
<text x="1257.00" y="1301.10" font-size="46" text-anchor="end" fill="#000" >0.4</text>
<text x="1257.00" y="1161.50" font-size="46" text-anchor="end" fill="#000" >0.8</text>
<text x="1257.00" y="1021.90" font-size="46" text-anchor="end" fill="#000" >1.2</text>
<text x="1730.20" y="1381.30" font-size="51" text-anchor="start" fill="#333" class="g">D</text>
<text font-size="46" transform="translate(1469.6,1542)"  class="ax"><tspan x="0" y="0" >t</tspan><tspan x="12.5" y="8.7" font-size="33.4" textLength="67.6" lengthAdjust="spacingAndGlyphs">pulse</tspan><tspan x="90" y="0" >(ms)</tspan></text>
<text font-size="46" transform="translate(1165.5,1319) rotate(-90)"  class="ax"><tspan x="0" y="0" >∇</tspan><tspan x="31.5" y="0" class="m">T</tspan><tspan x="58" y="0" class="m">(x)</tspan><tspan x="120" y="0" >(K/µm)</tspan></text>
</svg>
</body>
</html>
